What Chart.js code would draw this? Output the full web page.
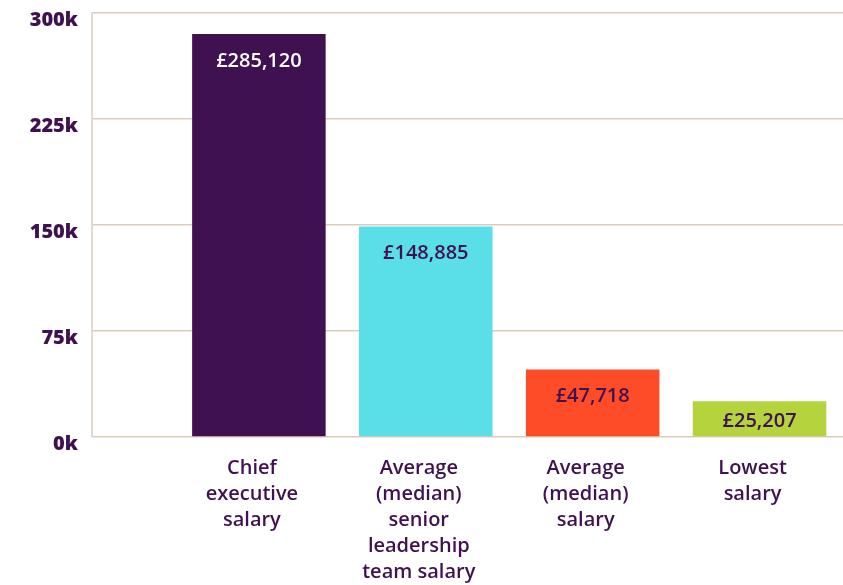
<!DOCTYPE html>
<html><head><meta charset="utf-8">
<script src="https://cdn.jsdelivr.net/npm/chart.js@4.4.1/dist/chart.umd.min.js"></script>
<style>html,body{margin:0;padding:0;background:#fff}#wrap{width:843px;height:585px}</style>
</head><body><div id="wrap"><canvas id="c"></canvas></div>
<script>
const categories = [
  ["Chief","executive","salary"],
  ["Average","(median)","senior","leadership","team salary"],
  ["Average","(median)","salary"],
  ["Lowest","salary"]
];
const salaries = [285120, 148885, 47718, 25207];
const valueLabels = ["£285,120","£148,885","£47,718","£25,207"];
const yTicks = [0, 75000, 150000, 225000, 300000];
const barColors = ["#3f1150","#5adfe9","#ff4c28","#b5d33d"];
const labelColors = ["#ffffff","#3f1150","#3f1150","#3f1150"];
const ink = "#3f1150";

const valuePlugin = {
  id: 'valueLabels',
  afterDatasetsDraw(chart) {
    const ctx = chart.ctx;
    const meta = chart.getDatasetMeta(0);
    ctx.save();
    ctx.font = "600 20px 'Open Sans'";
    ctx.textAlign = 'center';
    ctx.textBaseline = 'middle';
    meta.data.forEach((bar, i) => {
      const h = bar.base - bar.y;
      let y = bar.y + 27;
      if (h < 56) y = (bar.y + bar.base) / 2 + 2;
      ctx.fillStyle = labelColors[i];
      ctx.fillText(valueLabels[i], bar.x, y);
    });
    ctx.restore();
  }
};

new Chart(document.getElementById('c'), {
  type: 'bar',
  data: {
    datasets: [{
      data: salaries.map((v, i) => ({x: i, y: v})),
      backgroundColor: barColors,
      borderWidth: 0,
      barPercentage: 1,
      categoryPercentage: 0.8
    }]
  },
  options: {
    responsive: true,
    maintainAspectRatio: false,
    animation: false,
    layout: { padding: { top: 13, right: 0, left: 0, bottom: 0 } },
    plugins: { legend: { display: false }, tooltip: { enabled: false } },
    scales: {
      x: {
        type: 'linear',
        min: -1, max: 3.5,
        offset: false,
        afterBuildTicks(scale) {
          scale.ticks = categories.map((c, i) => ({ value: i }));
        },
        afterFit(scale) { scale.height = 148; scale.paddingLeft = 0; scale.paddingRight = 0; },
        grid: { display: false, offset: false },
        border: { display: false },
        ticks: {
          autoSkip: false,
          maxRotation: 0,
          padding: 10,
          labelOffset: -7,
          color: ink,
          font: { family: "'Open Sans'", size: 20, weight: '600', lineHeight: 1.3 },
          callback: (v) => categories[v] || ''
        }
      },
      y: {
        min: 0, max: 300000,
        afterBuildTicks(scale) {
          scale.ticks = yTicks.map(v => ({ value: v }));
        },
        afterFit(scale) { scale.width = 92; scale.paddingTop = 0; scale.paddingBottom = 0; },
        grid: { color: '#dccbb8', lineWidth: 1.5, drawTicks: false },
        border: { display: true, color: '#e2dad0', width: 2 },
        ticks: {
          padding: 14,
          labelOffset: 7,
          color: ink,
          font: { family: "'Open Sans'", size: 20, weight: '800' },
          callback: (v) => (v / 1000) + 'k'
        }
      }
    }
  },
  plugins: [valuePlugin]
});
</script>
</body></html>
